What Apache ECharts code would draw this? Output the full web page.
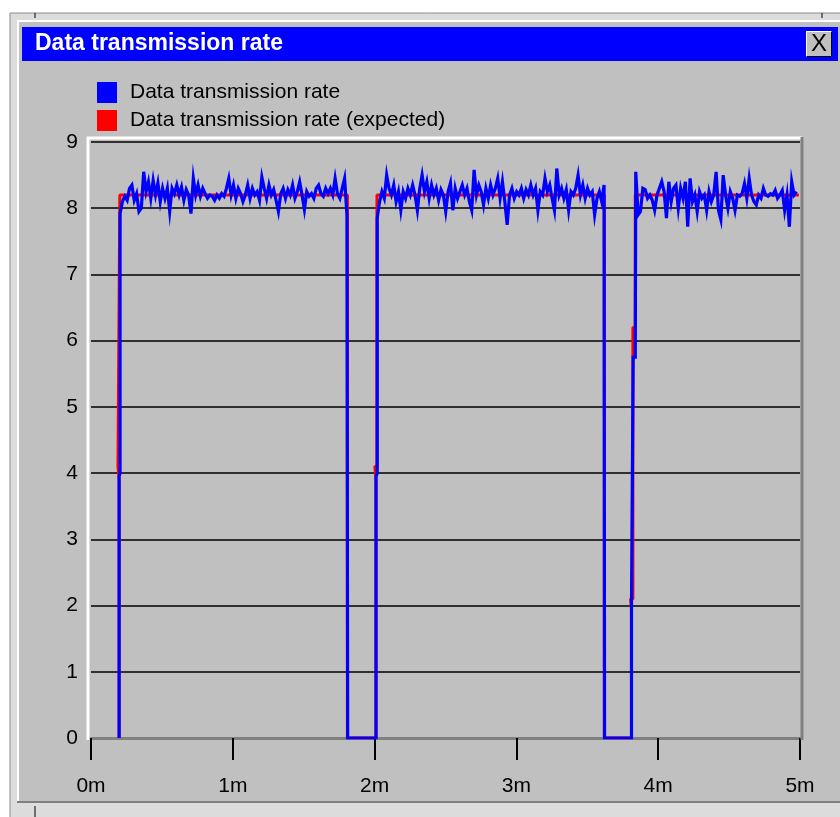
<!DOCTYPE html>
<html>
<head>
<meta charset="utf-8">
<script src="https://cdn.jsdelivr.net/npm/echarts@6/dist/echarts.min.js"></script>
<style>
html,body{margin:0;padding:0;background:#fff;}
#chart{width:840px;height:817px;}
</style>
</head>
<body>
<div id="chart"></div>
<script>
// ---- data (time in seconds) ----
const chartTitle = 'Data transmission rate';
const seriesNames = ['Data transmission rate', 'Data transmission rate (expected)'];
const xTickLabels = ['0m', '1m', '2m', '3m', '4m', '5m'];
const yTicks = [0, 1, 2, 3, 4, 5, 6, 7, 8, 9];

// measured samples, one per second
const seg1Start = 12.3;
const seg1 = [7.92,8.1,8.18,8.12,8.3,8.35,8.12,8.22,7.95,8.0,8.55,8.25,8.4,8.15,8.42,8.2,8.38,8.1,8.3,8.15,
  8.3,7.95,8.3,8.22,8.35,8.2,8.32,8.12,8.28,8.2,7.92,8.45,8.2,8.35,8.18,8.3,8.22,8.15,8.2,8.18,
  8.12,8.2,8.15,8.22,8.18,8.3,8.45,8.2,8.35,8.15,8.3,8.22,8.1,8.2,8.35,8.15,8.3,8.2,8.25,8.12,
  8.47,8.3,8.15,8.35,8.2,8.28,8.12,7.95,8.22,8.3,8.15,8.28,8.2,8.35,8.15,8.25,8.4,8.2,7.98,8.25,
  8.18,8.22,8.15,8.3,8.35,8.22,8.18,8.3,8.22,8.3,8.2,8.45,8.22,8.15,8.3,8.45,7.9];
const seg2Start = 121.1;
const seg2 = [7.85,8.1,8.25,8.15,8.5,8.3,8.2,8.35,8.1,8.25,7.97,8.25,8.15,8.3,8.2,8.35,8.2,7.97,8.3,8.5,
  8.25,8.4,8.15,8.35,8.2,8.3,8.12,8.28,8.2,7.95,8.25,8.38,7.97,8.3,8.15,8.25,8.35,8.2,8.3,8.1,
  7.97,8.58,8.2,8.35,8.25,8.05,8.3,8.15,8.35,8.2,8.3,8.45,8.15,8.4,8.1,7.75,8.2,8.3,8.15,8.25,
  8.2,8.3,8.15,8.28,8.2,8.35,8.2,8.3,7.97,8.25,8.2,8.45,8.25,8.35,8.15,7.97,8.6,8.2,8.3,8.15,
  8.28,7.97,8.25,8.2,8.3,8.5,8.2,8.35,8.15,8.3,8.2,8.25,7.9,8.15,8.25,8.1,8.35];
const seg3Start = 230.5;
const seg3 = [8.55,7.9,7.95,8.3,8.28,8.15,8.2,8.12,7.97,8.2,8.3,8.4,8.25,7.85,8.4,8.1,8.3,8.35,8.0,8.3,
  8.15,8.4,7.72,8.45,8.1,8.2,7.95,8.25,8.15,8.2,7.97,8.25,8.1,8.2,8.55,7.97,7.83,8.5,8.2,8.0,
  8.25,8.15,7.97,8.2,8.18,8.22,8.37,8.15,8.45,8.2,8.1,8.05,8.2,8.15,8.3,8.2,8.18,8.22,8.2,8.27,
  8.15,8.2,8.27,7.97,8.2,7.72,8.4,8.2,8.25];
// transition points of the measured line [time, value]
const blueRise1 = [[11.9, 0], [11.9, 3.95], [12.3, 4.0]];
const blueDrop1 = [[108.6, 0], [120.6, 0], [120.6, 3.95], [121.1, 4.0]];
const blueDrop2 = [[217.3, 0], [228.7, 0], [228.7, 2.0], [229.4, 2.0], [229.4, 5.75], [230.3, 5.75]];
// expected rate [time, value]
const expected = [[11.9, 0], [11.9, 3.9], [11.4, 3.9], [11.4, 4.1], [12.2, 4.1], [12.2, 8.2], [108.5, 8.2], [108.5, 0],
  [120.6, 0], [120.6, 3.9], [120.1, 3.9], [120.1, 4.1], [121.0, 4.1], [121.0, 8.2], [217.2, 8.2], [217.2, 0],
  [228.7, 0], [228.7, 1.95], [228.3, 1.95], [228.3, 2.1], [229.3, 2.1], [229.3, 6.2], [230.3, 6.2], [230.3, 8.2], [299.5, 8.2]];

function seg(start, vals) { return vals.map((v, i) => [start + i, v]); }
const measured = [].concat(blueRise1, seg(seg1Start, seg1), blueDrop1, seg(seg2Start, seg2), blueDrop2, seg(seg3Start, seg3));

// ---- layout ----
const FONT = "'Liberation Sans', Arial, sans-serif";
const G = { left: 91, right: 40, top: 142, bottom: 79 };
const W = 840, H = 817;
const gx0 = G.left, gx1 = W - G.right, gy0 = G.top, gy1 = H - G.bottom;
const GRAY = '#c0c0c0';

const chart = echarts.init(document.getElementById('chart'), null, { renderer: 'canvas' });
chart.setOption({
  backgroundColor: '#ffffff',
  animation: false,
  textStyle: { fontFamily: FONT },
  graphic: [
    { type: 'rect', z: -10, shape: { x: 10, y: 13, width: 840, height: 810 }, style: { fill: '#dcdcdc', stroke: '#8c8c8c', lineWidth: 1 } },
    { type: 'rect', z: -9, shape: { x: 17, y: 20, width: 830, height: 782 }, style: { fill: GRAY, stroke: null } },
    { type: 'polyline', z: -8, shape: { points: [[18, 801], [18, 21], [840, 21]] }, style: { stroke: '#ffffff', lineWidth: 2, fill: null } },
    { type: 'line', z: -8, shape: { x1: 17, y1: 802, x2: 840, y2: 802 }, style: { stroke: '#808080', lineWidth: 2 } },
    { type: 'line', z: -8, shape: { x1: 35, y1: 806, x2: 35, y2: 817 }, style: { stroke: '#000', lineWidth: 1 } },
    { type: 'line', z: -8, shape: { x1: 35, y1: 13, x2: 35, y2: 18 }, style: { stroke: '#000', lineWidth: 1 } },
    { type: 'line', z: -8, shape: { x1: 822, y1: 13, x2: 822, y2: 18 }, style: { stroke: '#000', lineWidth: 1 } },
    { type: 'rect', z: -7, shape: { x: 22, y: 27, width: 816, height: 34 }, style: { fill: '#0000ff' } },
    { type: 'text', z: -6, left: 35, top: 32, style: { text: chartTitle, fill: '#ffffff', font: "bold 23px " + FONT } },
    { type: 'rect', z: -6, shape: { x: 806, y: 31, width: 26, height: 26 }, style: { fill: GRAY } },
    { type: 'polyline', z: -5, shape: { points: [[806.5, 56.5], [806.5, 31.5], [831.5, 31.5]] }, style: { stroke: '#ffffff', lineWidth: 1, fill: null } },
    { type: 'polyline', z: -5, shape: { points: [[806.5, 56.5], [831.5, 56.5], [831.5, 31.5]] }, style: { stroke: '#000000', lineWidth: 1, fill: null } },
    { type: 'text', z: -5, x: 819, y: 44, style: { text: 'X', fill: '#000', font: "24px " + FONT, textAlign: 'center', textVerticalAlign: 'middle' } },
    // plot frame
    { type: 'polyline', z: 50, shape: { points: [[88, gy1 + 2], [88, 138], [gx1 + 2, 138]] }, style: { stroke: '#ffffff', lineWidth: 3, fill: null } },
    { type: 'line', z: 50, shape: { x1: gx1 + 2, y1: 137, x2: gx1 + 2, y2: gy1 + 2 }, style: { stroke: '#808080', lineWidth: 3 } }
  ],
  legend: {
    orient: 'vertical', left: 97, top: 82, itemWidth: 20, itemHeight: 21, itemGap: 7, padding: 0,
    icon: 'rect',
    data: [
      { name: seriesNames[0], itemStyle: { color: '#0000ff' } },
      { name: seriesNames[1], itemStyle: { color: '#ff0000' } }
    ],
    textStyle: { fontSize: 21, color: '#000', fontFamily: FONT, padding: [2, 0, 0, 8] },
    selectedMode: false
  },
  grid: { left: G.left, right: G.right, top: G.top, bottom: G.bottom, show: true, backgroundColor: GRAY, borderWidth: 0 },
  xAxis: {
    type: 'value', min: 0, max: 300, interval: 60,
    axisLine: { show: true, onZero: false, lineStyle: { color: '#808080', width: 3 } },
    axisTick: { show: true, length: 22, lineStyle: { color: '#000', width: 2 } },
    axisLabel: { margin: 38, fontSize: 21, color: '#000', fontFamily: FONT, formatter: v => xTickLabels[Math.round(v / 60)] },
    splitLine: { show: false }
  },
  yAxis: {
    type: 'value', min: yTicks[0], max: yTicks[yTicks.length - 1], interval: 1,
    axisLine: { show: false }, axisTick: { show: false },
    axisLabel: { margin: 13, fontSize: 21, color: '#000', fontFamily: FONT },
    splitLine: { show: true, lineStyle: { color: '#000', width: 1.6 } }
  },
  series: [
    { name: seriesNames[1], type: 'line', data: expected, showSymbol: false, symbol: 'none', z: 3,
      lineStyle: { color: '#ff0000', width: 3 }, itemStyle: { color: '#ff0000' } },
    { name: seriesNames[0], type: 'line', data: measured, showSymbol: false, symbol: 'none', z: 4,
      lineStyle: { color: '#0000ff', width: 3.2, join: 'miter' }, itemStyle: { color: '#0000ff' } }
  ]
});
</script>
</body>
</html>
